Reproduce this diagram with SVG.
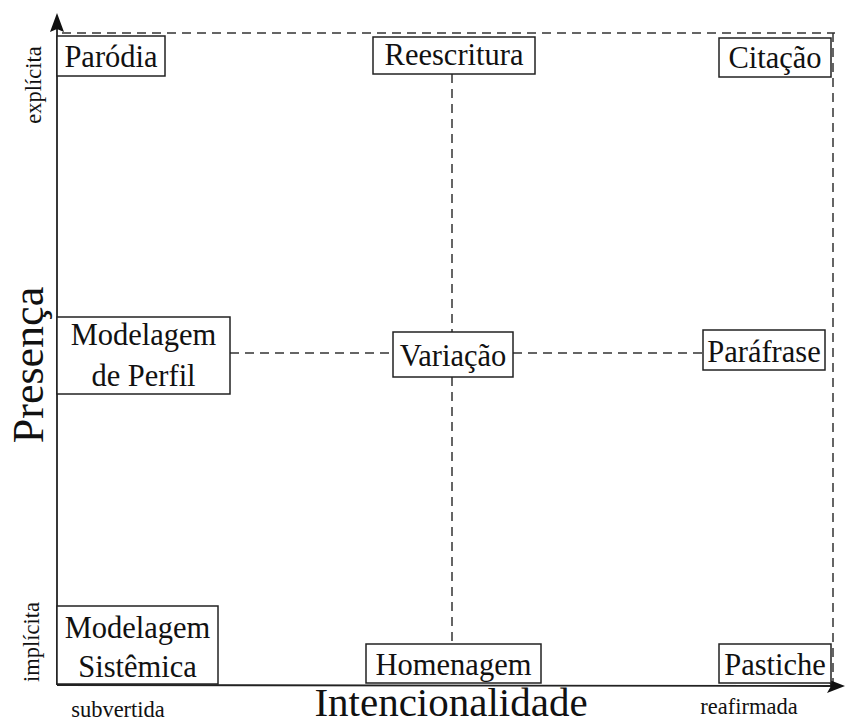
<svg xmlns="http://www.w3.org/2000/svg" width="845" height="726" viewBox="0 0 845 726">
<style>
.box{fill:#fff;stroke:#222;stroke-width:1.5}
.t{font-family:"Liberation Serif","Times New Roman",serif;font-size:30.5px;fill:#111;text-anchor:middle}
.s{font-family:"Liberation Serif","Times New Roman",serif;font-size:22.5px;fill:#111;text-anchor:middle}
.big{font-family:"Liberation Serif","Times New Roman",serif;font-size:44px;fill:#111;text-anchor:middle}
.dash{fill:none;stroke:#333;stroke-width:1.5;stroke-dasharray:9 6}
.axis{fill:none;stroke:#222;stroke-width:1.8}
</style>
<g id="connectors">
<line class="dash" x1="62" y1="33" x2="835" y2="33"/>
<line class="dash" x1="833" y1="33" x2="833" y2="685"/>
<line class="dash" x1="230" y1="353" x2="393" y2="353"/>
<line class="dash" x1="513" y1="353" x2="703" y2="353"/>
<line class="dash" x1="452" y1="74" x2="452" y2="332"/>
<line class="dash" x1="452" y1="377" x2="452" y2="644"/>
</g>
<g id="axes">
<line class="axis" x1="57" y1="685" x2="57" y2="28"/>
<polygon points="57,13 50,32 57,29 64,32" fill="#111"/>
<line class="axis" x1="57" y1="685" x2="832" y2="686"/>
<polygon points="845,686 827,679 831,686 827,693" fill="#111"/>
<text class="big" transform="translate(43,365) rotate(-90)">Presença</text>
<text class="big" x="451" y="716" style="font-size:41px">Intencionalidade</text>
<text class="s" transform="translate(41,85) rotate(-90)">explícita</text>
<text class="s" transform="translate(39,642) rotate(-90)">implícita</text>
<text class="s" x="118" y="717">subvertida</text>
<text class="s" x="749" y="714">reafirmada</text>
</g>
<g id="parodia">
<rect class="box" x="57" y="36" width="108" height="40"/>
<text class="t" x="111" y="67">Paródia</text>
</g>
<g id="reescritura">
<rect class="box" x="373" y="37" width="162" height="37"/>
<text class="t" x="454" y="65">Reescritura</text>
</g>
<g id="citacao">
<rect class="box" x="719" y="38" width="112" height="39"/>
<text class="t" x="775" y="68">Citação</text>
</g>
<g id="modelagem-perfil">
<rect class="box" x="57" y="317" width="173" height="77"/>
<text class="t" x="143.5" y="345">Modelagem</text>
<text class="t" x="143.5" y="386">de Perfil</text>
</g>
<g id="variacao">
<rect class="box" x="393" y="332" width="120" height="45"/>
<text class="t" x="453" y="366">Variação</text>
</g>
<g id="parafrase">
<rect class="box" x="703" y="330" width="122" height="40"/>
<text class="t" x="764" y="362">Paráfrase</text>
</g>
<g id="modelagem-sistemica">
<rect class="box" x="57" y="606" width="161" height="78"/>
<text class="t" x="137.5" y="638">Modelagem</text>
<text class="t" x="137.5" y="677">Sistêmica</text>
</g>
<g id="homenagem">
<rect class="box" x="366" y="644" width="175" height="39"/>
<text class="t" x="453.5" y="675">Homenagem</text>
</g>
<g id="pastiche">
<rect class="box" x="719" y="644" width="112" height="39"/>
<text class="t" x="775" y="675">Pastiche</text>
</g>
</svg>
